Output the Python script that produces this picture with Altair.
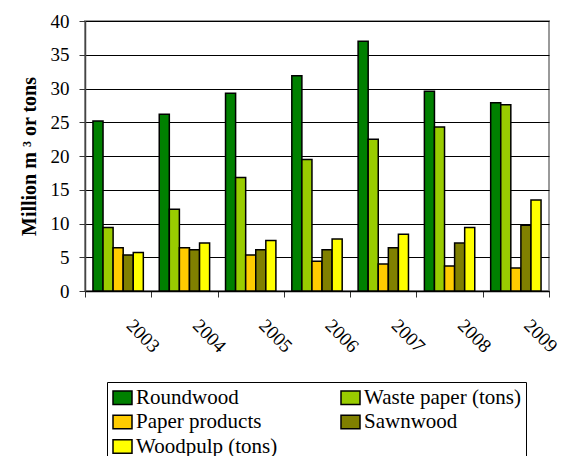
import altair as alt
import pandas as pd

# Annual volumes, million m3 (or tons where noted)
years = ["2003", "2004", "2005", "2006", "2007", "2008", "2009"]
series = ["Roundwood", "Waste paper (tons)", "Paper products", "Sawnwood", "Woodpulp (tons)"]
colors = ["#008000", "#99CC00", "#FFCC00", "#808000", "#FFFF00"]

roundwood = [25.2, 26.2, 29.3, 31.9, 37.0, 29.6, 27.9]
waste_paper = [9.4, 12.1, 16.8, 19.5, 22.5, 24.3, 27.6]
paper_products = [6.4, 6.4, 5.35, 4.4, 4.0, 3.7, 3.4]
sawnwood = [5.35, 6.1, 6.1, 6.1, 6.4, 7.1, 9.75]
woodpulp = [5.7, 7.1, 7.5, 7.7, 8.4, 9.4, 13.5]

values = [roundwood, waste_paper, paper_products, sawnwood, woodpulp]
rows = []
for name, vals in zip(series, values):
    for yr, v in zip(years, vals):
        rows.append({"Year": yr, "Product": name, "Value": v})
df = pd.DataFrame(rows)

FONT = "Liberation Serif"

bars = alt.Chart(df).mark_bar(stroke="black", strokeWidth=1.5).encode(
    x=alt.X(
        "Year:N",
        sort=years,
        scale=alt.Scale(paddingInner=0, paddingOuter=0),
        axis=alt.Axis(
            title=None,
            labelAngle=45,
            labelAlign="left",
            labelBaseline="middle",
            labelPadding=25,
            labelOffset=11,
            labelFont=FONT,
            labelFontSize=19,
            labelColor="black",
            tickBand="extent",
            tickSize=6,
            tickColor="#333333",
            domainColor="black",
            domainWidth=1.5,
            grid=False,
        ),
    ),
    xOffset=alt.XOffset(
        "Product:N",
        sort=series,
        scale=alt.Scale(paddingInner=0, paddingOuter=0.79),
    ),
    y=alt.Y(
        "Value:Q",
        scale=alt.Scale(domain=[0, 40], nice=False),
        axis=alt.Axis(
            title="Million m ³ or tons",
            titleFont=FONT,
            titleFontSize=20,
            titleFontWeight="bold",
            titleColor="black",
            titlePadding=11,
            values=[0, 5, 10, 15, 20, 25, 30, 35, 40],
            labelFont=FONT,
            labelFontSize=19,
            labelColor="black",
            labelPadding=10,
            tickSize=6,
            tickColor="#333333",
            domainColor="#444444",
            domainWidth=1.5,
            grid=True,
            gridColor="black",
            gridWidth=1,
        ),
    ),
    color=alt.Color(
        "Product:N",
        sort=series,
        scale=alt.Scale(domain=series, range=colors),
        legend=alt.Legend(
            title=None,
            orient="none",
            legendX=22,
            legendY=361,
            direction="horizontal",
            columns=2,
            columnPadding=60,
            rowPadding=2.5,
            padding=5,
            offset=0,
            strokeColor="black",
            symbolType="M-1,-0.72H1V0.72H-1Z",
            symbolSize=361,
            symbolStrokeColor="black",
            symbolStrokeWidth=1.5,
            symbolOpacity=1,
            labelFont=FONT,
            labelFontSize=21,
            labelColor="black",
            labelOffset=3,
            labelLimit=300,
        ),
    ),
)

chart = bars.properties(
    width=464,
    height=270,
    autosize=alt.AutoSizeParams(type="none"),
    padding={"left": 85, "top": 21, "right": 12, "bottom": 165},
    background="white",
).configure_view(
    stroke="#9a9a9a",
    strokeWidth=2,
)

chart.save("out.html", embed_options={"renderer": "svg", "actions": False})
